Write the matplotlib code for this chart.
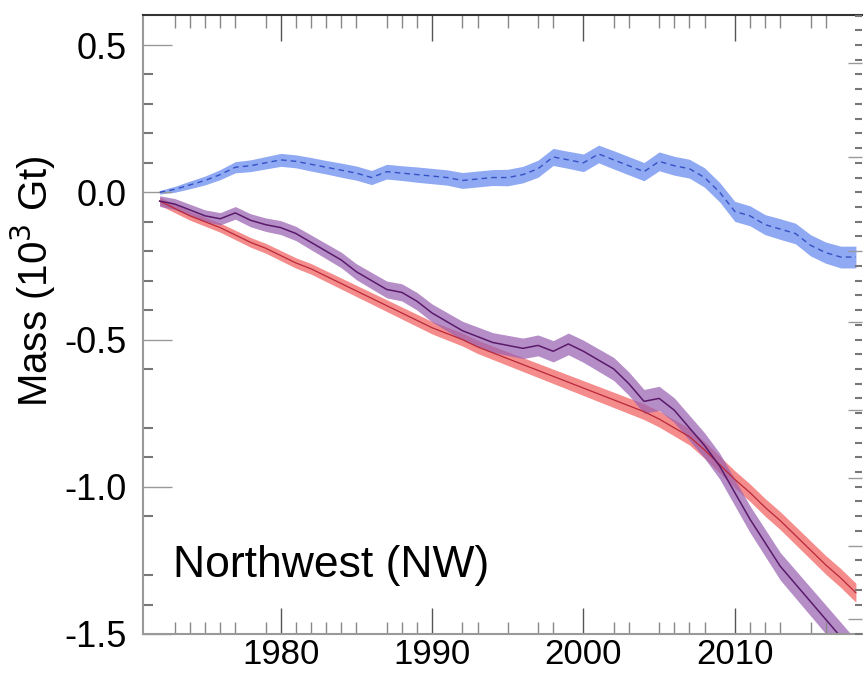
import matplotlib
matplotlib.use("Agg")
import matplotlib.pyplot as plt
import numpy as np
from matplotlib.ticker import FixedLocator, MultipleLocator

years = list(range(1972, 2019))

smb = [0.00, 0.01, 0.025, 0.04, 0.06, 0.085, 0.09, 0.10, 0.11, 0.105, 0.095, 0.085,
       0.075, 0.065, 0.05, 0.07, 0.065, 0.06, 0.055, 0.05, 0.04, 0.045, 0.05, 0.05,
       0.06, 0.08, 0.12, 0.11, 0.10, 0.13, 0.11, 0.09, 0.07, 0.105, 0.09, 0.08,
       0.05, 0.00, -0.065, -0.08, -0.11, -0.125, -0.14, -0.18, -0.205, -0.22, -0.22]
smb_err = [0.006, 0.01, 0.013, 0.015, 0.017, 0.019, 0.02, 0.021, 0.022, 0.022, 0.023, 0.023,
           0.024, 0.024, 0.024, 0.025, 0.025, 0.026, 0.026, 0.026, 0.027, 0.027, 0.027, 0.028,
           0.028, 0.029, 0.029, 0.029, 0.03, 0.03, 0.031, 0.031, 0.031, 0.032, 0.032, 0.032,
           0.033, 0.033, 0.034, 0.034, 0.034, 0.035, 0.035, 0.036, 0.036, 0.037, 0.037]

discharge = [-0.03, -0.055, -0.08, -0.10, -0.12, -0.145, -0.17, -0.19, -0.215, -0.24,
             -0.26, -0.285, -0.31, -0.335, -0.36, -0.385, -0.41, -0.435, -0.46, -0.48,
             -0.50, -0.525, -0.545, -0.565, -0.585, -0.605, -0.625, -0.645, -0.665, -0.685,
             -0.705, -0.725, -0.745, -0.77, -0.80, -0.83, -0.875, -0.925, -0.975, -1.02,
             -1.07, -1.115, -1.165, -1.215, -1.265, -1.31, -1.36]
dis_err = [0.014 + 0.0004 * i for i in range(len(years))]

total = [-0.03, -0.04, -0.06, -0.08, -0.09, -0.07, -0.095, -0.11, -0.12, -0.14,
         -0.17, -0.20, -0.23, -0.27, -0.30, -0.33, -0.34, -0.37, -0.41, -0.44,
         -0.47, -0.49, -0.51, -0.52, -0.53, -0.52, -0.54, -0.515, -0.54, -0.57,
         -0.60, -0.65, -0.71, -0.70, -0.74, -0.80, -0.86, -0.93, -1.02, -1.11,
         -1.19, -1.27, -1.33, -1.39, -1.45, -1.51, -1.57]
tot_err = [0.018 + 0.0007 * i for i in range(len(years))]

minor_years = [1973, 1974, 1975, 1976, 1977, 1979, 1981, 1982, 1983, 1984, 1985, 1987,
               1988, 1989, 1992, 1993, 1995, 1997, 1998, 2002, 2003, 2005, 2006, 2007,
               2008, 2011, 2012, 2013, 2015, 2016]
major_years = [1980, 1990, 2000, 2010]
y_major = [-1.5, -1.0, -0.5, 0.0, 0.5]
y_minor_left = [-1.4, -1.3, -1.1, -0.9, -0.8, -0.6, -0.4, -0.3, -0.2, -0.1, 0.1, 0.2, 0.3, 0.4]

plt.rcParams['font.family'] = ['Liberation Sans', 'DejaVu Sans']
fig = plt.figure(figsize=(8.65, 6.78), dpi=100)
ax = fig.add_axes([0.1653, 0.0649, 0.8312, 0.9130])

y = np.array(years)
def band(vals, err, fc, lc, ls, lw, alpha):
    v = np.array(vals); e = np.array(err)
    ax.fill_between(y, v - e, v + e, color=fc, alpha=alpha, lw=0)
    ax.plot(y, v, color=lc, ls=ls, lw=lw)

band(discharge, dis_err, '#f26060', '#b82838', '-', 0.9, 0.72)
band(total, tot_err, '#9a62b2', '#5a1a6a', '-', 1.1, 0.72)
band(smb, smb_err, '#6a8cf0', '#3452c4', (0, (4, 3)), 1.0, 0.75)

ax.set_xlim(1970.9, 2018.4)
ax.set_ylim(-1.5, 0.602)

ax.xaxis.set_major_locator(FixedLocator(major_years))
ax.xaxis.set_minor_locator(FixedLocator(minor_years))
ax.yaxis.set_major_locator(FixedLocator(y_major))
ax.yaxis.set_minor_locator(FixedLocator(y_minor_left))
ax.set_yticklabels(['-1.5', '-1.0', '-0.5', '0.0', '0.5'])

ax.tick_params(axis='x', which='major', direction='in', length=19, width=1.0,
               color='#555555', top=True, labelsize=25, pad=3)
ax.tick_params(axis='x', which='minor', direction='in', length=9, width=1.0,
               color='#888888', top=True)
ax.tick_params(axis='y', which='major', direction='in', length=21, width=1.0,
               color='#999999', labelsize=26, pad=12)
ax.tick_params(axis='y', which='minor', direction='in', length=7, width=1.5,
               color='#777777')

ax2 = ax.twinx()
ax2.set_ylim(ax.get_ylim())
ax2.yaxis.set_major_locator(FixedLocator([-1.45, -1.2, -0.97, -0.74, -0.44, -0.2, 0.12, 0.44]))
ax2.yaxis.set_minor_locator(MultipleLocator(0.05))
ax2.tick_params(axis='y', which='major', direction='in', length=10, width=1.0,
                color='#999999', labelright=False)
ax2.tick_params(axis='y', which='minor', direction='in', length=5, width=1.5,
                color='#777777')
for s in ax2.spines.values():
    s.set_visible(False)

ax.spines['top'].set_color('#333333')
ax.spines['top'].set_linewidth(1.5)
ax.spines['left'].set_color('#999999')
ax.spines['left'].set_linewidth(1.5)
ax.spines['bottom'].set_color('#999999')
ax.spines['bottom'].set_linewidth(1.5)
ax.spines['right'].set_visible(False)

ax.set_ylabel('Mass (10$^3$ Gt)', fontsize=29)
ax.yaxis.set_label_coords(-0.118, 0.57)
ax.text(0.042, 0.092, 'Northwest (NW)', transform=ax.transAxes, fontsize=32,
        ha='left', va='baseline')

fig.savefig('out.png', dpi=100)
